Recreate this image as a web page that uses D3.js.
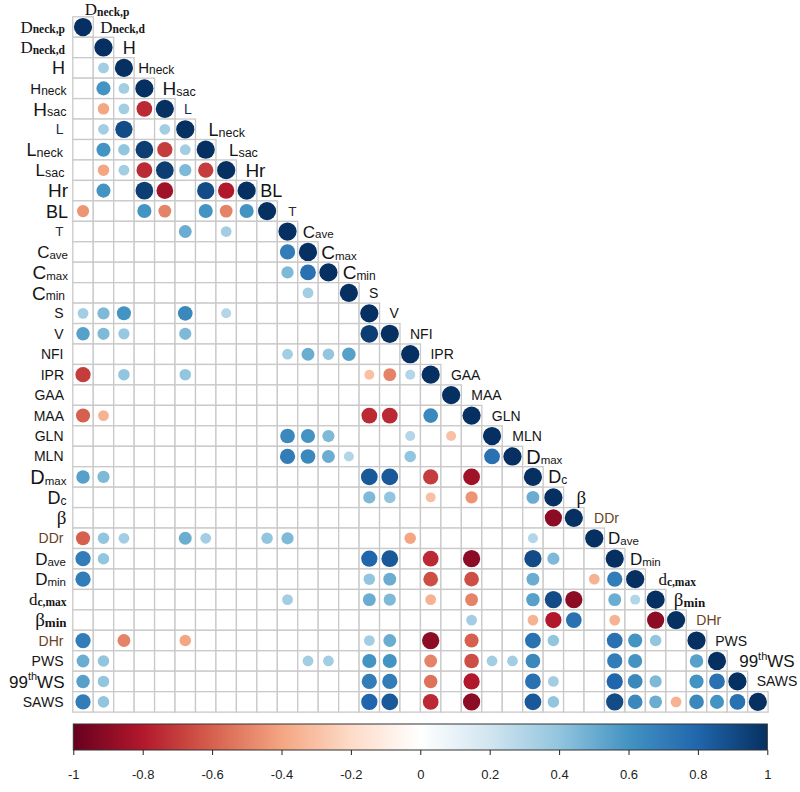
<!DOCTYPE html>
<html><head><meta charset="utf-8">
<script src="https://cdn.jsdelivr.net/npm/d3@7"></script>
<style>body{margin:0;background:#fff}svg{display:block}</style>
</head><body><svg id="c" width="800" height="792"></svg>
<script>
// ---- DATA ----
// variable labels as [text, role] segments ("" main, "sub" subscript, "sup" superscript)
const variables = [
  [["D",""],["neck,p","sub"]],
  [["D",""],["neck,d","sub"]],
  [["H",""]],
  [["H",""],["neck","sub"]],
  [["H",""],["sac","sub"]],
  [["L",""]],
  [["L",""],["neck","sub"]],
  [["L",""],["sac","sub"]],
  [["Hr",""]],
  [["BL",""]],
  [["T",""]],
  [["C",""],["ave","sub"]],
  [["C",""],["max","sub"]],
  [["C",""],["min","sub"]],
  [["S",""]],
  [["V",""]],
  [["NFI",""]],
  [["IPR",""]],
  [["GAA",""]],
  [["MAA",""]],
  [["GLN",""]],
  [["MLN",""]],
  [["D",""],["max","sub"]],
  [["D",""],["c","sub"]],
  [["β",""]],
  [["DDr",""]],
  [["D",""],["ave","sub"]],
  [["D",""],["min","sub"]],
  [["d",""],["c,max","sub"]],
  [["β",""],["min","sub"]],
  [["DHr",""]],
  [["PWS",""]],
  [["99",""],["th","sup"],["WS",""]],
  [["SAWS",""]]
];

// lower-triangle correlations: per row, [column index, r]; blank cells omitted
const corr = [
  [[0,1]],
  [[1,1]],
  [[1,.35],[2,1]],
  [[1,.6],[2,.35],[3,1]],
  [[1,-.4],[2,.35],[3,-.75],[4,1]],
  [[1,.35],[2,.9],[4,.35],[5,1]],
  [[1,.6],[2,.4],[3,.95],[4,-.7],[5,.35],[6,1]],
  [[1,-.4],[2,.35],[3,-.75],[4,.95],[5,.45],[6,-.7],[7,1]],
  [[1,.6],[3,.95],[4,-.85],[6,.9],[7,-.8],[8,1]],
  [[0,-.45],[3,.6],[4,-.5],[6,.6],[7,-.5],[8,.6],[9,1]],
  [[5,.5],[7,.35],[10,1]],
  [[10,.7],[11,1]],
  [[10,.45],[11,.75],[12,1]],
  [[11,.35],[13,1]],
  [[0,.35],[1,.45],[2,.6],[5,.65],[7,.3],[14,1]],
  [[0,.55],[1,.45],[2,.38],[5,.45],[14,.95],[15,1]],
  [[10,.35],[11,.5],[12,.4],[13,.55],[16,1]],
  [[0,-.7],[2,.4],[5,.4],[14,-.3],[15,-.5],[16,.3],[17,1]],
  [[18,1]],
  [[0,-.6],[1,-.35],[14,-.75],[15,-.75],[17,.65],[19,1]],
  [[10,.65],[11,.6],[12,.45],[16,.3],[18,-.3],[20,1]],
  [[10,.7],[11,.65],[12,.5],[13,.3],[16,.4],[20,.75],[21,1]],
  [[0,.55],[1,.45],[14,.85],[15,.85],[17,-.7],[19,-.85],[22,1]],
  [[14,.45],[15,.4],[17,-.3],[19,-.45],[22,.5],[23,1]],
  [[23,-.9],[24,1]],
  [[0,-.6],[1,.4],[2,.35],[5,.5],[6,.35],[9,.4],[10,.45],[16,-.4],[22,.3],[25,1]],
  [[0,.7],[1,.4],[14,.8],[15,.85],[17,-.75],[19,-.9],[22,.9],[23,.45],[26,1]],
  [[0,.7],[14,.4],[15,.5],[17,-.65],[19,-.65],[22,.5],[25,-.35],[26,.7],[27,1]],
  [[10,.35],[14,.5],[15,.45],[17,-.35],[19,-.5],[22,.55],[23,.9],[24,-.9],[26,.5],[27,.3],[28,1]],
  [[19,.35],[22,-.35],[23,-.8],[24,.75],[26,-.35],[28,-.9],[29,1]],
  [[0,.7],[2,-.5],[5,-.4],[14,.35],[15,.5],[17,-.9],[19,-.6],[22,.75],[23,.4],[26,.75],[27,.6],[28,.4],[30,1]],
  [[0,.5],[1,.4],[11,.35],[12,.35],[14,.6],[15,.6],[17,-.5],[19,-.65],[20,.35],[21,.35],[22,.65],[26,.7],[27,.6],[30,.55],[31,1]],
  [[0,.55],[1,.4],[14,.7],[15,.7],[17,-.55],[19,-.8],[22,.75],[23,.35],[26,.8],[27,.65],[28,.45],[30,.6],[31,.75],[32,1]],
  [[0,.7],[1,.4],[14,.8],[15,.85],[17,-.75],[19,-.9],[22,.85],[23,.4],[26,.9],[27,.65],[28,.5],[29,-.35],[30,.65],[31,.6],[32,.75],[33,1]]
];

const palette = ["#67001F","#B2182B","#D6604D","#F4A582","#FDDBC7","#FFFFFF","#D1E5F0","#92C5DE","#4393C3","#2166AC","#053061"];
const colorTicks = [-1,-0.8,-0.6,-0.4,-0.2,0,0.2,0.4,0.6,0.8,1];

// ---- STYLES ----
const SANS = "'Liberation Sans', Arial, sans-serif";
const SERIF = "'Liberation Serif', 'Times New Roman', serif";
function S(main, sub, dx, end, extra){ return Object.assign({f:SANS, main, sub, dx, end, w:"normal", col:"#151515"}, extra||{}); }
const labelStyles = [
  S(17,11.5,12,65,{f:SERIF,w:"bold"}),
  S(17,11.5,7,65,{f:SERIF,w:"bold"}),
  S(18,0,9,65),
  S(15,12,4,66.5),
  S(19,12.5,8,66.5),
  S(14,0,9,63.5,{col:"#1a2c55"}),
  S(18,12.5,13,63),
  S(17,12.5,13,64.5),
  S(19,0,9,68),
  S(18,0,3.5,68),
  S(13.5,0,11,63.5,{col:"#2a2a3a"}),
  S(17,11.5,5,68),
  S(19,11.5,3,68),
  S(19,12,4,65),
  S(14,0,10,63.5),
  S(14,0,10,63.5),
  S(14,0,10,63.5),
  S(14,0,10,64),
  S(14,0,10,64),
  S(14,0,10,64),
  S(14,0,10,63.5),
  S(14,0,10,63.5),
  S(20,11.5,3.5,66.5),
  S(18,12,5,66.5),
  S(19,0,13,66.5,{f:SERIF}),
  S(14,0,10,63.5,{col:"#6a3f22"}),
  S(17,11.5,3.5,66),
  S(17,11.5,5,66),
  S(17,11.5,13,66.5,{f:SERIF,w:"bold"}),
  S(19,13,8,66.5,{f:SERIF,w:"bold"}),
  S(14,0,10,63.5,{col:"#6a3f22"}),
  S(14,0,8.5,63.5),
  S(17,11,12,64.5),
  S(14,0,9,63.5)
];

// ---- CHART ----
const svg = d3.select("#c");
const n = variables.length;
const gx0 = 72.8, gx1 = 768.1, gy0 = 16.8, gy1 = 712.1;
const x = d3.scaleBand().domain(d3.range(n)).range([gx0, gx1]);
const y = d3.scaleBand().domain(d3.range(n)).range([gy0, gy1]);
const cell = x.bandwidth();
const color = d3.scaleLinear().domain(colorTicks).range(palette);
const rad = d3.scaleSqrt().domain([0,1]).range([0, cell*0.445]);
const rowCenter = k => gy0 + (k + 0.5) * cell;

const gridCells = [];
corr.forEach((row, i) => { for (let j = 0; j <= i; j++) gridCells.push({i, j}); });
svg.append("g").selectAll("rect").data(gridCells).join("rect")
  .attr("x", d => x(d.j)).attr("y", d => y(d.i))
  .attr("width", cell).attr("height", cell)
  .attr("fill", "#fff").attr("stroke", "#c9c9c9").attr("stroke-width", 1.3);

const pts = [];
corr.forEach((row, i) => row.forEach(([j, v]) => pts.push({i, j, v})));
svg.append("g").selectAll("circle").data(pts).join("circle")
  .attr("cx", d => x(d.j) + cell/2).attr("cy", d => y(d.i) + cell/2)
  .attr("r", d => rad(Math.abs(d.v))).attr("fill", d => color(d.v));

function drawLabel(idx, px, cy, anchor) {
  const st = labelStyles[idx];
  const cap = st.f === SERIF ? 0.662 : 0.716;
  const t = svg.append("text").attr("x", px).attr("y", cy + cap * st.main / 2)
    .attr("text-anchor", anchor).attr("font-family", st.f).attr("fill", st.col);
  let off = 0;
  variables[idx].forEach(([txt, role]) => {
    let target = 0, size = st.main, weight = "normal";
    if (role === "sub") { target = 0.8; size = st.sub; weight = st.w; }
    if (role === "sup") { target = -0.42 * st.main; size = st.sub; }
    t.append("tspan").attr("dy", target - off).attr("font-size", size).attr("font-weight", weight).text(txt);
    off = target;
  });
}
for (let k = 0; k < n; k++) {
  drawLabel(k, labelStyles[k].end, rowCenter(k), "end");
  const cy = k === 0 ? rowCenter(-1) + 2.5 : rowCenter(k - 1);
  drawLabel(k, x(k) + labelStyles[k].dx, cy, "start");
}

// ---- COLOR BAR ----
const cbX = d3.scaleLinear().domain([-1, 1]).range([73.3, 767.3]);
const cbTop = 724, cbH = 26;
const grad = svg.append("defs").append("linearGradient").attr("id", "cbg")
  .attr("x1", "0%").attr("x2", "100%").attr("y1", "0%").attr("y2", "0%");
grad.selectAll("stop").data(d3.range(0, 1.0001, 0.02)).join("stop")
  .attr("offset", d => (d * 100) + "%").attr("stop-color", d => color(-1 + 2 * d));
svg.append("rect").attr("x", cbX(-1)).attr("y", cbTop).attr("width", cbX(1) - cbX(-1)).attr("height", cbH)
  .attr("fill", "url(#cbg)").attr("stroke", "#333").attr("stroke-width", 1);
const axis = svg.append("g").attr("transform", `translate(0,${cbTop + cbH})`)
  .call(d3.axisBottom(cbX).tickValues(colorTicks).tickSize(5).tickPadding(15)
    .tickFormat(d => String(Math.round(d * 10) / 10)));
axis.select(".domain").remove();
axis.selectAll(".tick line").attr("stroke", "#222");
axis.selectAll(".tick text").attr("font-family", SANS).attr("font-size", 13).attr("fill", "#222");
</script>
</body></html>
